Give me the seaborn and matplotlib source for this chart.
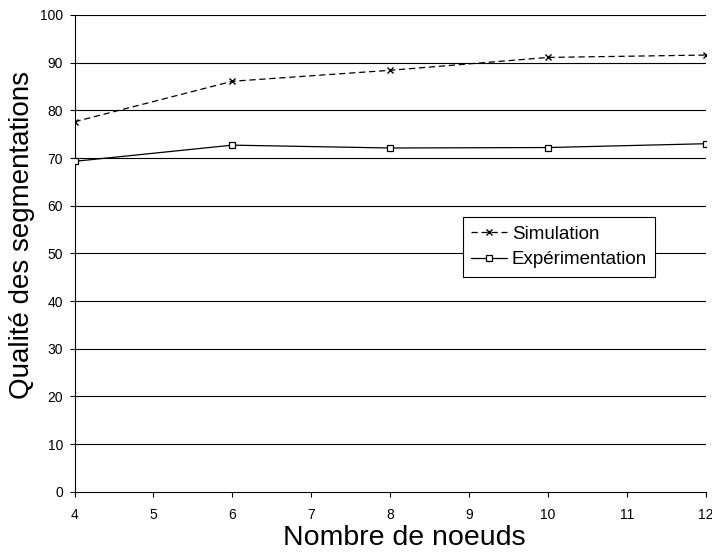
import pandas as pd
import seaborn as sns
import matplotlib.pyplot as plt

nodes = [4, 6, 8, 10, 12]
simulation = [77.6, 86.1, 88.4, 91.1, 91.6]
experimentation = [69.3, 72.7, 72.1, 72.2, 73.0]

sns.set_style("white")
plt.rcParams["font.family"] = ["Liberation Sans", "DejaVu Sans"]
plt.rcParams["text.color"] = "black"
plt.rcParams["axes.labelcolor"] = "black"
plt.rcParams["xtick.color"] = "black"
plt.rcParams["ytick.color"] = "black"

df = pd.DataFrame({
    "nodes": nodes * 2,
    "quality": simulation + experimentation,
    "serie": ["Simulation"] * len(nodes) + ["Expérimentation"] * len(nodes),
})

fig = plt.figure(figsize=(7.12, 5.55), dpi=100)
ax = fig.add_axes([74.5 / 712, 1 - 491.7 / 555, 631.5 / 712, 476.7 / 555])

for y in range(10, 101, 10):
    ax.axhline(y, color="black", lw=0.8, zorder=1)

sns.lineplot(
    data=df[df.serie == "Simulation"], x="nodes", y="quality", ax=ax,
    color="black", lw=0.9, marker="x", markersize=5, markeredgewidth=1,
    markeredgecolor="black", linestyle=(0, (5, 3)), label="Simulation", zorder=3,
)
sns.lineplot(
    data=df[df.serie == "Expérimentation"], x="nodes", y="quality", ax=ax,
    color="black", lw=0.9, marker="s", markersize=5, markerfacecolor="white",
    markeredgecolor="black", markeredgewidth=0.9, label="Expérimentation", zorder=3,
)

ax.set_xlim(4, 12)
ax.set_ylim(0, 100)
ax.set_xticks(range(4, 13))
ax.set_yticks(range(0, 101, 10))
ax.tick_params(axis="both", direction="out", length=3.6, width=0.8, labelsize=10,
               left=True, bottom=True, color="black")
ax.tick_params(axis="x", pad=8)
ax.tick_params(axis="y", pad=4.5)
for s in ["top", "right"]:
    ax.spines[s].set_visible(False)
for s in ["left", "bottom"]:
    ax.spines[s].set_color("black")
    ax.spines[s].set_linewidth(0.8)

ax.set_xlabel("Nombre de noeuds", fontsize=20.5)
ax.set_ylabel("Qualité des segmentations", fontsize=20)
ax.xaxis.set_label_coords(0.522, -0.07)
ax.yaxis.set_label_coords(-0.0625, 0.5385)

leg = ax.legend(loc="upper left", bbox_to_anchor=(463 / 712, 1 - 217 / 555),
                bbox_transform=fig.transFigure, frameon=True, fancybox=False,
                framealpha=1, edgecolor="black", fontsize=13.5, handlelength=1.9,
                borderpad=0.45, labelspacing=0.45, handletextpad=0.25,
                borderaxespad=0)
leg.get_frame().set_linewidth(0.8)

fig.savefig("out.png", dpi=100)
